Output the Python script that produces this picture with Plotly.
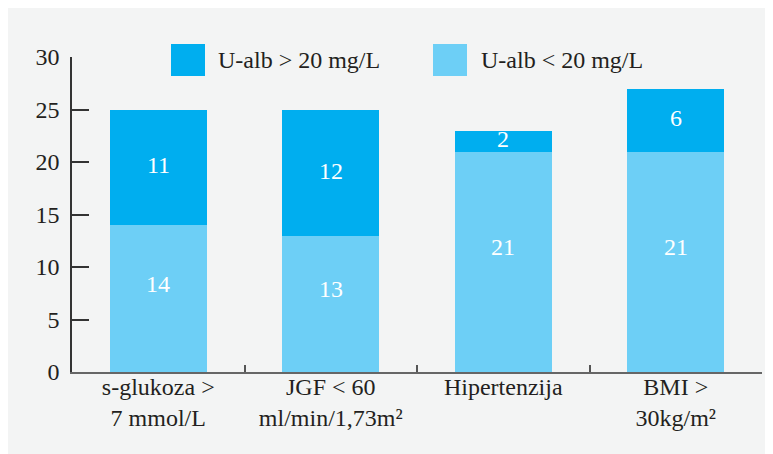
import plotly.graph_objects as go

categories = ["s-glukoza ><br>7 mmol/L", "JGF < 60<br>ml/min/1,73m²", "Hipertenzija", "BMI ><br>30kg/m²"]
below_20 = [14, 13, 21, 21]
above_20 = [11, 12, 2, 6]
series_names = ["U-alb > 20 mg/L", "U-alb < 20 mg/L"]
y_ticks = [0, 5, 10, 15, 20, 25, 30]

DARK = "#00aeef"
LIGHT = "#6dcff6"
BG = "#f3f4f4"
FONT = "Liberation Serif"

OFF = 8  # browser body margin
W, H = 773 - OFF, 454 - OFF
L, R, T, B = 72 - OFF, 11, 57 - OFF, 82
pw, ph = W - L - R, H - T - B

def px_x(x):
    return (x - OFF - L) / pw

def px_y(y):
    return (H - B - (y - OFF)) / ph

fig = go.Figure()
fig.add_trace(go.Bar(x=categories, y=below_20, name=series_names[1], marker_color=LIGHT,
                     width=0.56, showlegend=False, marker_line_width=0))
fig.add_trace(go.Bar(x=categories, y=above_20, name=series_names[0], marker_color=DARK,
                     width=0.56, showlegend=False, marker_line_width=0))

annotations = []
for c, lo, hi in zip(categories, below_20, above_20):
    annotations.append(dict(x=c, y=lo / 2, text=str(lo), showarrow=False, yshift=15,
                            font=dict(family=FONT, size=24, color="white")))
    annotations.append(dict(x=c, y=lo + hi / 2, text=str(hi), showarrow=False, yshift=2,
                            font=dict(family=FONT, size=24, color="white")))

# legend drawn as squares + labels
legend_items = [(series_names[0], DARK, 171, 205, 216), (series_names[1], LIGHT, 433, 467, 479)]
shapes = []
for name, col, sx0, sx1, tx in legend_items:
    shapes.append(dict(type="rect", xref="paper", yref="paper", x0=px_x(sx0), x1=px_x(sx1),
                       y0=px_y(76), y1=px_y(44), fillcolor=col, line_width=0))
    annotations.append(dict(xref="paper", yref="paper", x=px_x(tx), y=px_y(60), text=name,
                            showarrow=False, xanchor="left", yanchor="middle",
                            font=dict(family=FONT, size=24, color="#231f20")))

fig.update_layout(
    barmode="stack",
    width=W, height=H,
    margin=dict(l=L, r=R, t=T, b=B),
    paper_bgcolor=BG,
    plot_bgcolor=BG,
    font=dict(family=FONT, size=24, color="#231f20"),
    shapes=shapes,
    annotations=annotations,
    showlegend=False,
)
fig.update_xaxes(
    type="category", range=[-0.5, 3.5], tickson="boundaries", ticks="inside", ticklen=7,
    tickwidth=1.5, tickcolor="#555555", showline=True, linecolor="#666666", linewidth=2,
    showgrid=False, zeroline=False, ticklabelstandoff=-8,
)
fig.update_yaxes(
    range=[0, 30], tickvals=y_ticks, ticks="inside", ticklen=17, tickwidth=1.5,
    tickcolor="#333333", showline=True, linecolor="#333333", linewidth=1.5,
    showgrid=False, zeroline=False, ticklabelstandoff=6,
)

fig.write_html("out.html")
